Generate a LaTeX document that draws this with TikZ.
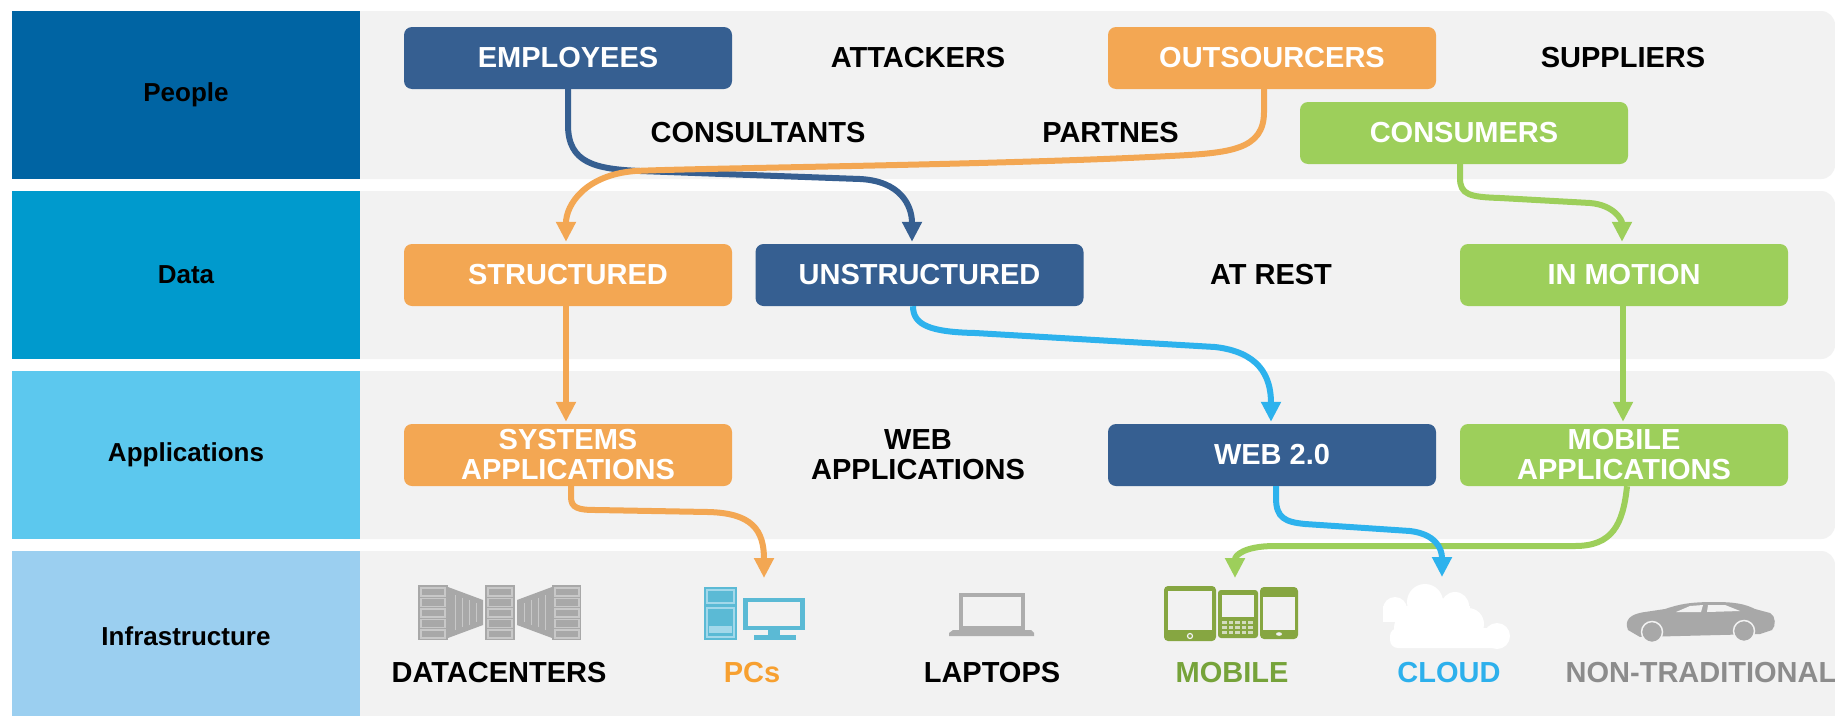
\documentclass[tikz,border=0pt]{standalone}
\usepackage{fontspec}
\setmainfont{Liberation Sans}
\usetikzlibrary{arrows.meta}
\definecolor{panel}{HTML}{F2F2F2}
\definecolor{peoplec}{HTML}{0064A3}
\definecolor{datac}{HTML}{009ACD}
\definecolor{appc}{HTML}{5CC8EE}
\definecolor{infrac}{HTML}{9BCFF0}
\definecolor{darkbl}{HTML}{365F91}
\definecolor{orangec}{HTML}{F3A753}
\definecolor{greenc}{HTML}{9DCF5B}
\definecolor{lightbl}{HTML}{2DB2ED}
\definecolor{pctext}{HTML}{F7A030}
\definecolor{mobtext}{HTML}{76A33A}
\definecolor{cloudtext}{HTML}{2DB0EC}
\definecolor{graytext}{HTML}{8C8C8C}
\definecolor{dcg}{HTML}{A8A8A8}
\definecolor{dcl}{HTML}{C8C8C8}
\definecolor{pcb}{HTML}{5BBAD5}
\definecolor{pcl}{HTML}{A3D8EA}
\definecolor{mg}{HTML}{86A641}
\definecolor{lg}{HTML}{ADADAD}
\newcommand\bxfont{\fontsize{29}{30}\selectfont\bfseries}
\newcommand\lbfont{\fontsize{26}{28}\selectfont\bfseries}
\tikzset{
  box/.style={rounded corners=8pt, minimum width=328pt, minimum height=62pt, inner sep=0pt, text=white, font=\bxfont, align=center},
  plain/.style={font=\bxfont, align=center, inner sep=0pt, text=black},
  rowlab/.style={minimum width=348.3pt, inner sep=0pt, font=\lbfont, text=black},
  conn/.style={line width=6pt, shorten >=2pt, -{Triangle[length=20pt,width=19pt]}},
  icon/.style={inner sep=0pt}
}
\begin{document}
\begin{tikzpicture}[x=1pt,y=-1pt]
\useasboundingbox (0,0) rectangle (1835,715);
\fill[white] (0,0) rectangle (1835,715);
% gray panels
\fill[panel, rounded corners=14pt] (330,11) rectangle (1835,179);
\fill[panel, rounded corners=14pt] (330,191) rectangle (1835,359);
\fill[panel, rounded corners=14pt] (330,371) rectangle (1835,539);
\fill[panel, rounded corners=14pt] (330,551) rectangle (1835,740);
% row labels
\node[rowlab, fill=peoplec, minimum height=168pt] (people) at (186,95) {People};
\node[rowlab, fill=datac, minimum height=168pt] (data) at (186,275) {Data};
\node[rowlab, fill=appc, minimum height=168pt] (apps) at (186,455) {Applications};
\node[rowlab, fill=infrac, minimum height=170pt] (infra) at (186,636) {Infrastructure};

% boxes
\node[box, fill=darkbl] (emp) at (568,58) {EMPLOYEES};
\node[box, fill=orangec] (outs) at (1272,58) {OUTSOURCERS};
\node[box, fill=greenc] (cons) at (1464,133) {CONSUMERS};
\node[box, fill=orangec] (struct) at (568,275) {STRUCTURED};
\node[box, fill=darkbl] (unst) at (919.5,275) {UNSTRUCTURED};
\node[box, fill=greenc] (inmot) at (1624,275) {IN MOTION};
\node[box, fill=orangec] (sysapp) at (568,455) {SYSTEMS\\APPLICATIONS};
\node[box, fill=darkbl] (web) at (1272,455) {WEB 2.0};
\node[box, fill=greenc] (mobapp) at (1624,455) {MOBILE\\APPLICATIONS};

% plain texts
\node[plain] (attackers) at (918,58) {ATTACKERS};
\node[plain] (suppliers) at (1623,58) {SUPPLIERS};
\node[plain] (consultants) at (758,133) {CONSULTANTS};
\node[plain] (partnes) at (1110.5,133) {PARTNES};
\node[plain] (atrest) at (1271,275) {AT REST};
\node[plain] (webapps) at (918,455) {WEB\\APPLICATIONS};

% infrastructure labels
\node[plain] (ldc) at (499,673) {DATACENTERS};
\node[plain, text=pctext] (lpc) at (752,673) {PCs};
\node[plain] (llap) at (992,673) {LAPTOPS};
\node[plain, text=mobtext] (lmob) at (1232,673) {MOBILE};
\node[plain, text=cloudtext] (lcloud) at (1449,673) {CLOUD};
\node[plain, text=graytext] (lnon) at (1701,673) {NON-TRADITIONAL};

% icon anchors
\coordinate (pcin) at (764,580);
\coordinate (mobin) at (1235,580);
\coordinate (cloudin) at (1442,579);

% connectors
\draw[conn, darkbl] (emp.south) -- (568,125) .. controls (568,163) and (595,169) .. (640,171) -- (860,179) .. controls (900,181) and (912,205) .. ([xshift=-7.5pt]unst.north);
\draw[conn, orangec] ([xshift=-8pt]outs.south) -- (1264,112) .. controls (1264,150) and (1230,153) .. (1170,156) .. controls (1000,165) and (700,168) .. (635,171) .. controls (585,175) and (566,205) .. ([xshift=-2pt]struct.north);
\draw[conn, greenc] ([xshift=-4pt]cons.south) -- (1460,178) .. controls (1460,195) and (1470,197) .. (1500,198) -- (1590,203) .. controls (1614,205) and (1622,220) .. ([xshift=-2pt]inmot.north);
\draw[conn, orangec] ([xshift=-2pt]struct.south) -- ([xshift=-2pt]sysapp.north);
\draw[conn, lightbl] ([xshift=-6.5pt]unst.south) .. controls (913,325) and (930,332) .. (975,333) -- (1215,347) .. controls (1258,352) and (1271,375) .. ([xshift=-1pt]web.north);
\draw[conn, greenc] ([xshift=-1pt]inmot.south) -- ([xshift=-1pt]mobapp.north);
\draw[conn, orangec] ([xshift=3pt]sysapp.south) -- (571,497) .. controls (571,508) and (578,510) .. (596,510) -- (708,512) .. controls (752,513) and (764,530) .. (pcin);
\draw[conn, greenc] ([xshift=3pt]mobapp.south) .. controls (1623,525) and (1612,546) .. (1575,546) -- (1275,546) .. controls (1243,546) and (1235,556) .. (mobin);
\draw[conn, lightbl] ([xshift=4pt]web.south) -- (1276,498) .. controls (1276,518) and (1285,522) .. (1305,524) -- (1410,531) .. controls (1435,534) and (1442,548) .. (cloudin);

% ---- icons ----
% datacenter
\node[icon, minimum width=163pt, minimum height=55pt] (dcicon) at (499.5,612.5) {};
\fill[dcg] (418,585) rectangle (448,640);
\fill[dcg] (448,587) -- (483,600) -- (483,625) -- (448,638) -- cycle;
\fill[dcg] (485,585) rectangle (515,640);
\fill[dcg] (517,600) -- (552,587) -- (552,638) -- (517,625) -- cycle;
\fill[dcg] (552,585) rectangle (581,640);
\foreach \i in {0,...,4} {
  \draw[dcl, line width=1.2pt] ({421},{588+10.5*\i}) rectangle ({445},{596+10.5*\i});
  \draw[dcl, line width=1.2pt] ({488},{588+10.5*\i}) rectangle ({512},{596+10.5*\i});
  \draw[dcl, line width=1.2pt] ({555},{588+10.5*\i}) rectangle ({579},{596+10.5*\i});
}
\foreach \x in {455,462,469,476} \draw[dcl, line width=1pt] ({\x},{593+(\x-448)*0.35}) -- ({\x},{632-(\x-448)*0.35});
\foreach \x in {524,531,538,545} \draw[dcl, line width=1pt] ({\x},{593+(552-\x)*0.35}) -- ({\x},{632-(552-\x)*0.35});
% PC
\node[icon, minimum width=101pt, minimum height=53pt] (pcicon) at (754.5,613.5) {};
\fill[pcb] (704,587) rectangle (737,640);
\draw[pcl, line width=1.2pt] (707,590) rectangle (734,603);
\draw[pcl, line width=1.2pt] (707,608) rectangle (734,637);
\fill[pcl] (709,626) rectangle (732,633);
\fill[pcb] (743,598) rectangle (805,630);
\fill[panel] (748,602) rectangle (800,626);
\fill[pcb] (768,630) rectangle (780,635);
\fill[pcb] (754,635) rectangle (796,640);
% laptop
\node[icon, minimum width=85pt, minimum height=43pt] (lapicon) at (991.5,614.5) {};
\fill[lg] (959,593) rectangle (1025,630);
\fill[panel] (963,597) rectangle (1021,626);
\fill[lg] (953,630) -- (1031,630) -- (1034,633) -- (1034,636) -- (949,636) -- (949,633) -- cycle;
% mobile devices
\node[icon, minimum width=134pt, minimum height=55pt] (mobicon) at (1231,613.5) {};
\fill[mg, rounded corners=4pt] (1164,586) rectangle (1216,641);
\fill[panel] (1168,591) rectangle (1212,630);
\draw[panel, line width=1.2pt] (1190,636) circle (2.5);
\fill[mg, rounded corners=3pt] (1218,590) rectangle (1258,638);
\fill[panel] (1222,595) rectangle (1254,617);
\foreach \r in {0,1,2} \foreach \c in {0,...,4}
  \fill[panel!70!mg] ({1222+6.6*\c},{621+5*\r}) rectangle ({1226.5+6.6*\c},{624+5*\r});
\fill[mg, rounded corners=4pt] (1260,587) rectangle (1298,639);
\fill[panel] (1263,597) rectangle (1295,630);
\fill[panel] (1279,634) ellipse (3 and 1.8);
% cloud
\node[icon, minimum width=129pt, minimum height=65pt] (cloudicon) at (1447.5,615.5) {};
\fill[white] (1395,609) circle (12);
\fill[white] (1425,602) circle (18);
\fill[white] (1455,606) circle (14);
\fill[white] (1383,606) rectangle (1470,622);
\fill[white] (1412,628) circle (18);
\fill[white] (1440,618) circle (20);
\fill[white] (1468,624) circle (16);
\fill[white] (1497,636) circle (13);
\fill[white, rounded corners=8pt] (1390,628) rectangle (1506,648);
% car
\node[icon, minimum width=149pt, minimum height=37pt] (caricon) at (1700.5,621.5) {};
\fill[dcg] (1628,630) .. controls (1624,620) and (1630,614) .. (1645,612) -- (1665,609) .. controls (1680,604) and (1690,602) .. (1715,602) .. controls (1735,602) and (1745,604) .. (1755,609) -- (1770,613) .. controls (1776,616) and (1776,626) .. (1772,630) -- (1760,634) -- (1640,637) -- cycle;
\fill[panel] (1676,612) -- (1690,606) -- (1703,605) -- (1701,612) -- cycle;
\fill[panel] (1707,612) -- (1708,605) -- (1725,605) -- (1740,611) -- cycle;
\draw[panel, line width=1.5pt, fill=dcg] (1652,632) circle (10.5);
\draw[panel, line width=1.5pt, fill=dcg] (1744,631) circle (10.5);
\end{tikzpicture}
\end{document}
